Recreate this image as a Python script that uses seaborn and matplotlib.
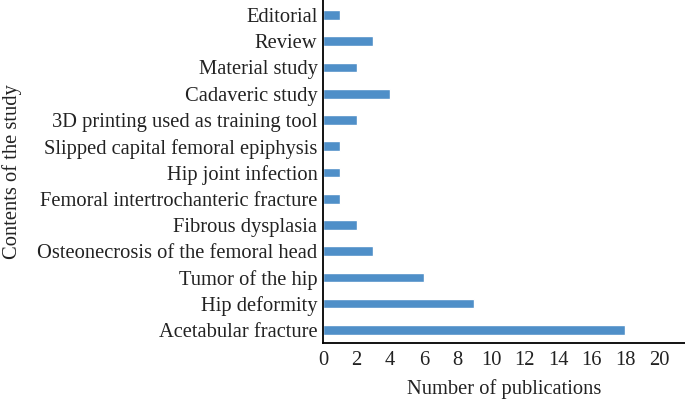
import matplotlib
matplotlib.use("Agg")
import matplotlib.pyplot as plt
import seaborn as sns
import pandas as pd

categories = ["Editorial", "Review", "Material study", "Cadaveric study",
              "3D printing used as training tool", "Slipped capital femoral epiphysis",
              "Hip joint infection", "Femoral intertrochanteric fracture",
              "Fibrous dysplasia", "Osteonecrosis of the femoral head",
              "Tumor of the hip", "Hip deformity", "Acetabular fracture"]
counts = [1, 3, 2, 4, 2, 1, 1, 1, 2, 3, 6, 9, 18]
xticks = [0, 2, 4, 6, 8, 10, 12, 14, 16, 18, 20]

df = pd.DataFrame({"category": categories, "count": counts})

sns.set_style("white")
plt.rcParams["font.family"] = ["Liberation Serif", "DejaVu Serif"]

fs = 14.8
fig = plt.figure(figsize=(6.85, 4.03), dpi=100)
ax = fig.add_axes([0.4715, 0.1489, 0.5285, 0.8511])
sns.barplot(data=df, y="category", x="count", orient="h", color="#4F8FC8",
            saturation=1, width=0.37, ax=ax)

ax.set_xlim(0, 21.55)
ax.set_ylim(12.5, -0.57)
ax.set_xticks(xticks)
ax.set_xticklabels([str(t) for t in xticks], fontsize=fs)
ax.tick_params(axis="y", labelsize=fs, length=0, pad=4, colors="#222222")
ax.tick_params(axis="x", length=0, pad=6, colors="#222222")
ax.set_xlabel("Number of publications", fontsize=fs, labelpad=6, color="#222222")
ax.set_ylabel("Contents of the study", fontsize=fs, labelpad=11, color="#222222")
for s in ["top", "right"]:
    ax.spines[s].set_visible(False)
for s in ["left", "bottom"]:
    ax.spines[s].set_color("black")
    ax.spines[s].set_linewidth(1.3)

fig.savefig("out.png", dpi=100)
